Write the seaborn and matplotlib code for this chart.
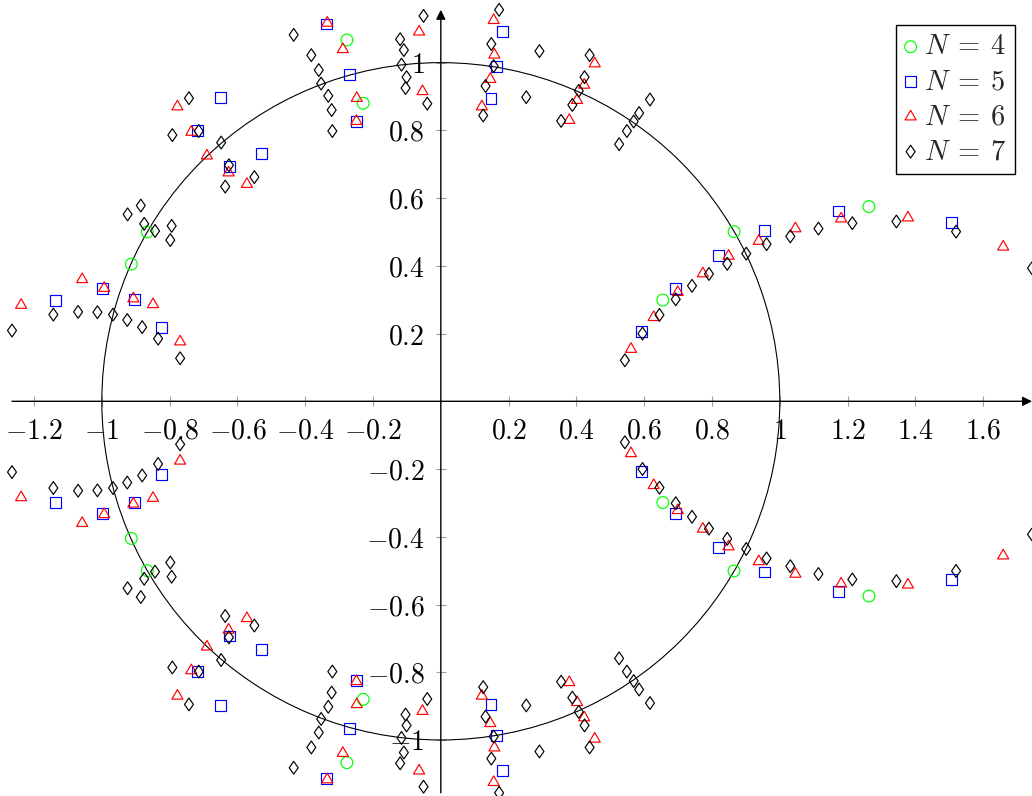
import matplotlib
matplotlib.use("Agg")
import matplotlib.pyplot as plt
import seaborn as sns
from matplotlib.patches import Circle
from matplotlib.path import Path
from matplotlib.ticker import FixedLocator, FuncFormatter

sns.set_style("white")
plt.rcParams["font.family"] = ["DejaVu Serif"]
plt.rcParams["mathtext.fontset"] = "cm"

# ---------------- data (real / imaginary parts of the roots) ----------------
n4_re = [-0.913, -0.866, -0.229, -0.277, 0.655, 0.865, 1.263,
         -0.913, -0.866, -0.229, -0.277, 0.655, 0.865, 1.263]
n4_im = [0.405, 0.500, 0.880, 1.067, 0.299, 0.501, 0.575,
         -0.405, -0.500, -0.880, -1.067, -0.299, -0.501, -0.575]

n5_re = [-1.136, -0.998, -0.903, -0.824, -0.623, -0.530, -0.718, -0.650, -0.250, -0.268,
         -0.337, 0.148, 0.163, 0.182, 0.592, 0.693, 0.819, 0.956, 1.172, 1.507,
         -1.136, -0.998, -0.903, -0.824, -0.623, -0.530, -0.718, -0.650, -0.250, -0.268,
         -0.337, 0.148, 0.163, 0.182, 0.592, 0.693, 0.819, 0.956, 1.172, 1.507]
n5_im = [0.298, 0.332, 0.300, 0.217, 0.693, 0.732, 0.799, 0.898, 0.825, 0.965,
         1.114, 0.894, 0.988, 1.091, 0.207, 0.332, 0.431, 0.504, 0.562, 0.527,
         -0.298, -0.332, -0.300, -0.217, -0.693, -0.732, -0.799, -0.898, -0.825, -0.965,
         -1.114, -0.894, -0.988, -1.091, -0.207, -0.332, -0.431, -0.504, -0.562, -0.527]

n6_re = [-1.238, -1.058, -0.993, -0.907, -0.849, -0.769, -0.626, -0.572, -0.690, -0.736,
         -0.777, -0.249, -0.248, -0.289, -0.335, -0.054, -0.064, 0.121, 0.146, 0.158,
         0.156, 0.561, 0.628, 0.699, 0.773, 0.849, 0.938, 1.046, 1.181, 1.378,
         1.659, 0.379, 0.402, 0.423, 0.454,
         -1.238, -1.058, -0.993, -0.907, -0.849, -0.769, -0.626, -0.572, -0.690, -0.736,
         -0.777, -0.249, -0.248, -0.289, -0.335, -0.054, -0.064, 0.121, 0.146, 0.158,
         0.156, 0.561, 0.628, 0.699, 0.773, 0.849, 0.938, 1.046, 1.181, 1.378,
         1.659, 0.379, 0.402, 0.423, 0.454]
n6_im = [0.284, 0.360, 0.334, 0.303, 0.286, 0.176, 0.675, 0.641, 0.725, 0.795,
         0.870, 0.827, 0.895, 1.039, 1.117, 0.915, 1.091, 0.870, 0.951, 1.023,
         1.125, 0.154, 0.248, 0.322, 0.377, 0.429, 0.473, 0.510, 0.539, 0.542,
         0.456, 0.830, 0.889, 0.934, 0.997,
         -0.284, -0.360, -0.334, -0.303, -0.286, -0.176, -0.675, -0.641, -0.725, -0.795,
         -0.870, -0.827, -0.895, -1.039, -1.117, -0.915, -1.091, -0.870, -0.951, -1.023,
         -1.125, -0.154, -0.248, -0.322, -0.377, -0.429, -0.473, -0.510, -0.539, -0.542,
         -0.456, -0.830, -0.889, -0.934, -0.997]

n7_re = [-1.265, -1.143, -1.070, -1.013, -0.967, -0.925, -0.881, -0.834, -0.769,
         -0.924, -0.885, -0.875, -0.843, -0.798, -0.794,
         -0.636, -0.625, -0.550, -0.648, -0.714, -0.792, -0.743,
         -0.320, -0.322, -0.332, -0.353, -0.360, -0.382, -0.434,
         -0.040, -0.104, -0.101, -0.116, -0.109, -0.120, -0.051,
         0.125, 0.132, 0.156, 0.149, 0.172, 0.252, 0.291,
         0.355, 0.388, 0.407, 0.424, 0.439,
         0.526, 0.549, 0.569, 0.585, 0.617,
         0.543, 0.595, 0.645, 0.693, 0.741, 0.791, 0.845, 0.901, 0.961, 1.031,
         1.114, 1.214, 1.344, 1.520, 1.744,
         -1.265, -1.143, -1.070, -1.013, -0.967, -0.925, -0.881, -0.834, -0.769,
         -0.924, -0.885, -0.875, -0.843, -0.798, -0.794,
         -0.636, -0.625, -0.550, -0.648, -0.714, -0.792, -0.743,
         -0.320, -0.322, -0.332, -0.353, -0.360, -0.382, -0.434,
         -0.040, -0.104, -0.101, -0.116, -0.109, -0.120, -0.051,
         0.125, 0.132, 0.156, 0.149, 0.172, 0.252, 0.291,
         0.355, 0.388, 0.407, 0.424, 0.439,
         0.526, 0.549, 0.569, 0.585, 0.617,
         0.543, 0.595, 0.645, 0.693, 0.741, 0.791, 0.845, 0.901, 0.961, 1.031,
         1.114, 1.214, 1.344, 1.520, 1.744]
n7_im = [0.209, 0.256, 0.264, 0.263, 0.256, 0.240, 0.219, 0.185, 0.127,
         0.552, 0.578, 0.524, 0.503, 0.476, 0.518,
         0.634, 0.697, 0.662, 0.764, 0.798, 0.786, 0.895,
         0.798, 0.860, 0.902, 0.938, 0.978, 1.022, 1.082,
         0.879, 0.925, 0.957, 0.994, 1.037, 1.069, 1.138,
         0.844, 0.931, 0.990, 1.055, 1.156, 0.898, 1.034,
         0.828, 0.875, 0.917, 0.957, 1.022,
         0.759, 0.798, 0.826, 0.851, 0.891,
         0.121, 0.200, 0.255, 0.301, 0.341, 0.376, 0.406, 0.436, 0.464, 0.487,
         0.510, 0.526, 0.531, 0.501, 0.393,
         -0.209, -0.256, -0.264, -0.263, -0.256, -0.240, -0.219, -0.185, -0.127,
         -0.552, -0.578, -0.524, -0.503, -0.476, -0.518,
         -0.634, -0.697, -0.662, -0.764, -0.798, -0.786, -0.895,
         -0.798, -0.860, -0.902, -0.938, -0.978, -1.022, -1.082,
         -0.879, -0.925, -0.957, -0.994, -1.037, -1.069, -1.138,
         -0.844, -0.931, -0.990, -1.055, -1.156, -0.898, -1.034,
         -0.828, -0.875, -0.917, -0.957, -1.022,
         -0.759, -0.798, -0.826, -0.851, -0.891,
         -0.121, -0.200, -0.255, -0.301, -0.341, -0.376, -0.406, -0.436, -0.464, -0.487,
         -0.510, -0.526, -0.531, -0.501, -0.393]

labels = [r"$N\:=\:4$", r"$N\:=\:5$", r"$N\:=\:6$", r"$N\:=\:7$"]
x_ticks = [-1.2, -1.0, -0.8, -0.6, -0.4, -0.2, 0.2, 0.4, 0.6, 0.8, 1.0, 1.2, 1.4, 1.6]
y_ticks = [-1.0, -0.8, -0.6, -0.4, -0.2, 0.2, 0.4, 0.6, 0.8, 1.0]

# ---------------- figure ----------------
fig = plt.figure(figsize=(10.32, 7.96), dpi=100)
ax = fig.add_axes([12 / 1032, 3.2 / 796, 1020 / 1032, 783 / 796])
x_min, x_max = min(n7_re), max(n7_re)
y_min, y_max = min(n7_im), max(n7_im)
ax.set_xlim(x_min, x_max)
ax.set_ylim(y_min, y_max)

# unit circle
ax.add_patch(Circle((0, 0), 1, fill=False, ec="black", lw=0.8, zorder=1))

tri = Path([(0, 1), (-0.866, -0.5), (0.866, -0.5), (0, 1)], closed=True)
dia = Path([(0, 1), (0.7, 0), (0, -1), (-0.7, 0), (0, 1)], closed=True)
styles = [
    (n4_re, n4_im, "o", (0, 1, 0), 72),
    (n5_re, n5_im, "s", (0, 0, 1), 62),
    (n6_re, n6_im, tri, (1, 0, 0), 85),
    (n7_re, n7_im, dia, (0, 0, 0), 85),
]
for lab, (re, im, mk, col, s) in zip(labels, styles):
    sns.scatterplot(x=re, y=im, marker=mk, s=s, color=col, facecolor="none",
                    edgecolor=col, linewidth=0.85, label=lab, ax=ax,
                    clip_on=False, zorder=3, legend=False)

# axis lines through origin with arrows
for sp in ax.spines.values():
    sp.set_visible(False)
ax.spines["bottom"].set_position(("data", 0))
ax.spines["left"].set_position(("data", 0))
ax.annotate("", xy=(x_max, 0), xytext=(x_min, 0),
            arrowprops=dict(arrowstyle="-|>", color="black", lw=1.0,
                            mutation_scale=14, shrinkA=0, shrinkB=0),
            annotation_clip=False, zorder=2)
ax.annotate("", xy=(0, y_max), xytext=(0, y_min),
            arrowprops=dict(arrowstyle="-|>", color="black", lw=1.0,
                            mutation_scale=14, shrinkA=0, shrinkB=0),
            annotation_clip=False, zorder=2)

ax.xaxis.set_ticks_position("bottom")
ax.yaxis.set_ticks_position("left")
ax.xaxis.set_major_locator(FixedLocator(x_ticks))
ax.yaxis.set_major_locator(FixedLocator(y_ticks))
fmt = FuncFormatter(lambda v, p: "$%g$" % v)
ax.xaxis.set_major_formatter(fmt)
ax.yaxis.set_major_formatter(fmt)
ax.tick_params(axis="both", direction="inout", length=7.5, width=0.8,
               color="#a0a0a0", labelcolor="black", labelsize=20, pad=8)
ax.grid(False)

leg = ax.legend(loc="upper right", bbox_to_anchor=(0.983, 0.981), borderaxespad=0,
                frameon=True, fancybox=False, edgecolor="black", framealpha=1,
                fontsize=20.5, handlelength=0.45, handletextpad=0.25, borderpad=0.3,
                labelspacing=0.28)
leg.get_frame().set_linewidth(1.0)

fig.savefig("out.png", dpi=100)
